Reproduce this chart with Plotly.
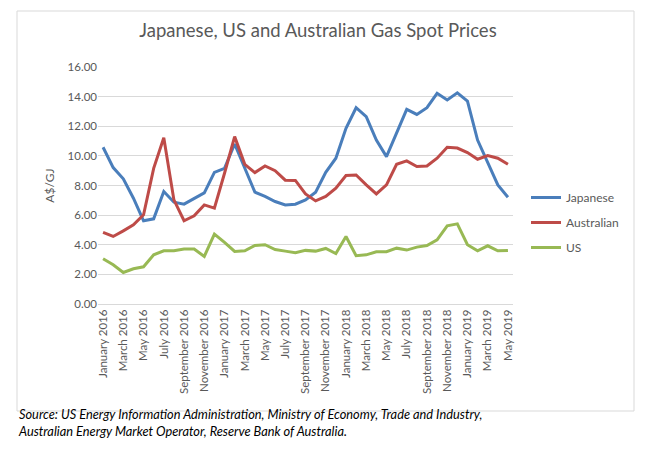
import plotly.graph_objects as go

months = ["January", "February", "March", "April", "May", "June", "July",
          "August", "September", "October", "November", "December"]
categories = [f"{m} {y}" for y in (2016, 2017, 2018, 2019) for m in months][:41]
tick_labels = categories[::2]

japanese = [10.58, 9.21, 8.45, 7.14, 5.62, 5.75, 7.59, 6.87, 6.74, 7.14, 7.50, 8.89,
            9.16, 10.80, 9.20, 7.55, 7.26, 6.92, 6.69, 6.74, 7.03, 7.55, 8.89, 9.84,
            11.86, 13.25, 12.65, 11.07, 9.95, 11.52, 13.14, 12.80, 13.25, 14.22, 13.77,
            14.26, 13.70, 11.07, 9.61, 8.04, 7.21]
australian = [4.83, 4.56, 4.94, 5.34, 6.02, 9.16, 11.23, 7.03, 5.62, 5.95, 6.69, 6.47,
              8.83, 11.30, 9.43, 8.87, 9.32, 9.00, 8.36, 8.34, 7.43, 6.96, 7.26, 7.82,
              8.67, 8.71, 8.04, 7.43, 8.04, 9.43, 9.66, 9.28, 9.32, 9.84, 10.58,
              10.53, 10.22, 9.77, 10.02, 9.84, 9.43]
us = [3.05, 2.65, 2.13, 2.38, 2.51, 3.32, 3.59, 3.59, 3.71, 3.71, 3.21, 4.72,
      4.16, 3.55, 3.59, 3.95, 4.00, 3.68, 3.57, 3.46, 3.62, 3.57, 3.75, 3.41,
      4.56, 3.26, 3.32, 3.53, 3.53, 3.77, 3.64, 3.84, 3.95, 4.33, 5.28,
      5.41, 4.00, 3.59, 3.93, 3.59, 3.62]

W, H = 654, 450
FONT = "Lato"
GRAY = "#595959"

fig = go.Figure()
for name, vals, col, grp in [("Japanese", japanese, "#4A7EBB", "a"),
                             ("Australian", australian, "#BE4B48", "b"),
                             ("US", us, "#98B954", "c")]:
    fig.add_trace(go.Scatter(x=categories, y=vals, mode="lines", name=name,
                             legendgroup=grp,
                             line=dict(color=col, width=3)))

fig.update_layout(
    width=W, height=H,
    margin=dict(l=0, r=0, t=0, b=0, autoexpand=False),
    paper_bgcolor="white", plot_bgcolor="white",
    font=dict(family=FONT, color=GRAY, size=12),
    title=dict(text="Japanese, US and Australian Gas Spot Prices",
               x=310 / W, xanchor="center", y=1 - 23 / H, yanchor="middle",
               font=dict(family=FONT, size=18.5, color=GRAY)),
    xaxis=dict(domain=[90 / W, 505 / W], type="category",
               categoryorder="array", categoryarray=categories,
               range=[-0.5, 40.5], tickmode="array", tickvals=tick_labels,
               ticktext=tick_labels, tickangle=-90, showgrid=False,
               showline=True, linecolor="#D9D9D9", ticks="",
               tickfont=dict(size=11.5, color=GRAY)),
    yaxis=dict(domain=[1 - 296 / H, 1 - 59 / H], range=[0, 16], dtick=2,
               tickformat=".2f", gridcolor="#D9D9D9", gridwidth=1,
               zeroline=False, showline=False, ticks="",
               tickfont=dict(size=11.5, color=GRAY),
               title=dict(text="A$/GJ", standoff=10, font=dict(size=12, color=GRAY))),
    legend=dict(x=518 / W, xanchor="left", y=1 - 175 / H, yanchor="top",
                tracegroupgap=6, traceorder="grouped",
                font=dict(size=12, color=GRAY), itemwidth=30,
                bgcolor="rgba(0,0,0,0)"),
    shapes=[dict(type="rect", xref="paper", yref="paper",
                 x0=9 / W, x1=626 / W, y0=1 - 403 / H, y1=1 - 3 / H,
                 line=dict(color="#D9D9D9", width=1), fillcolor="rgba(0,0,0,0)",
                 layer="below")],
    annotations=[dict(text="<i>Source: US Energy Information Administration, Ministry of Economy, Trade and Industry,<br>"
                           "Australian Energy Market Operator, Reserve Bank of Australia.</i>",
                      xref="paper", yref="paper", x=8 / W, y=1 - 396 / H,
                      xanchor="left", yanchor="top", align="left", showarrow=False,
                      font=dict(family=FONT, size=12.8, color="black"))],
)

fig.write_html("out.html")
